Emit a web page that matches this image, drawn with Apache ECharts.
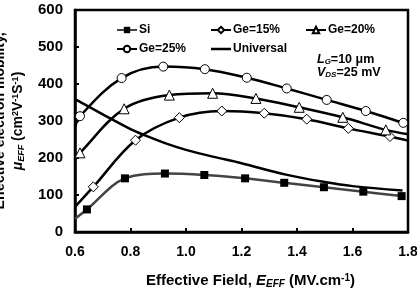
<!DOCTYPE html>
<html><head><meta charset="utf-8">
<script src="https://cdn.jsdelivr.net/npm/echarts@6/dist/echarts.min.js"></script>
<style>html,body{margin:0;padding:0;background:#fff}#c{width:417px;height:289px}</style>
</head><body><div id="c"></div>
<script>
// Marker points
const siX   = [0.643, 0.78, 0.924, 1.066, 1.213, 1.354, 1.497, 1.639, 1.777];
const siY   = [61, 145, 158, 154, 145, 133, 121, 109, 97];
const ge15X = [0.666, 0.818, 0.976, 1.129, 1.282, 1.435, 1.585, 1.735];
const ge15Y = [122, 248, 309, 327, 321, 305, 280, 258];
const ge20X = [0.618, 0.777, 0.94, 1.096, 1.252, 1.408, 1.565, 1.72];
const ge20Y = [214, 333, 370, 375, 361, 337, 310, 276];
const ge25X = [0.618, 0.768, 0.918, 1.068, 1.219, 1.363, 1.507, 1.648, 1.783];
const ge25Y = [313, 416, 447, 440, 417, 388, 357, 327, 295];
// Unmarked curve ends (start at 0.6 / end at 1.8)
const siStart = [0.6, 36],   siEnd = null;
const ge15Start = [0.6, 68], ge15End = [1.8, 247];
const ge20Start = [0.6, 197], ge20End = [1.8, 264];
const ge25Start = [0.6, 282], ge25End = [1.8, 291];
// Universal line
const uniX = [0.6, 0.7, 0.8, 0.85, 0.94, 1.0, 1.1, 1.2, 1.36, 1.5, 1.6, 1.78];
const uniY = [359, 318, 278, 262, 236, 222, 203, 186, 155, 135, 124, 112];
const seriesNames = ['Si', 'Ge=15%', 'Ge=20%', 'Ge=25%', 'Universal'];
const xTicks = {min: 0.6, max: 1.8, interval: 0.2};
const yTicks = {min: 0, max: 600, interval: 100};

function build(xs, ys, start, end) {
  const d = [];
  if (start) d.push({value: start, symbol: 'none'});
  xs.forEach((x, i) => d.push([x, ys[i]]));
  if (end) d.push({value: end, symbol: 'none'});
  return d;
}
const F = 'Liberation Sans, Arial, sans-serif';
const chart = echarts.init(document.getElementById('c'));
const openStyle = {color: '#fff', borderColor: '#000', borderWidth: 1};
function lineSeries(name, data, symbol, size, itemStyle, lineColor) {
  return {name, type: 'line', data, smooth: 0.35, symbol, symbolSize: size,
    showAllSymbol: true, itemStyle, lineStyle: {color: lineColor, width: 2.5},
    emphasis: {disabled: true}, z: 3};
}
const lineIcon = 'path://M0,0L20,0L20,0.001Z M0,2.75L20,2.75L20,5.25L0,5.25Z M0,8L20,8L20,8.001Z';
const legendCommon = {orient: 'vertical', itemWidth: 20, itemHeight: 8, itemGap: 7,
  textStyle: {fontFamily: F, fontWeight: 'bold', fontSize: 12, color: '#000', padding: [0,0,0,-3]}};
chart.setOption({
  animation: false,
  grid: {left: 75, right: 9, top: 10, bottom: 57, show: true, borderColor: '#000', borderWidth: 2.5,
    outerBoundsMode: 'none', containLabel: false},
  legend: [
    Object.assign({data: [seriesNames[0], seriesNames[3]], left: 111, top: 19}, legendCommon),
    Object.assign({data: [seriesNames[1], {name: seriesNames[4], icon: lineIcon, itemStyle: {color: '#000', borderWidth: 0}}], left: 205, top: 19}, legendCommon),
    Object.assign({data: [seriesNames[2]], left: 300, top: 19}, legendCommon)
  ],
  xAxis: {type: 'value', min: xTicks.min, max: xTicks.max, interval: xTicks.interval,
    axisLine: {lineStyle: {color: '#000', width: 2.5}},
    axisTick: {inside: true, length: 4, lineStyle: {color: '#000', width: 2}},
    splitLine: {show: false},
    axisLabel: {formatter: v => v.toFixed(1), fontFamily: F, fontWeight: 'bold', fontSize: 14, color: '#000', margin: 13},
    name: '{a|Effective Field, }{i|E}{s|EFF}{a| (MV.cm}{p|-1}{a|)}',
    nameLocation: 'middle', nameGap: 41,
    nameTextStyle: {padding: [0, 0, 0, 18], rich: {
      a: {fontFamily: F, fontWeight: 'bold', fontSize: 15, color: '#000'},
      i: {fontFamily: F, fontWeight: 'bold', fontStyle: 'italic', fontSize: 15, color: '#000'},
      s: {fontFamily: F, fontWeight: 'bold', fontStyle: 'italic', fontSize: 10, color: '#000', padding: [6,0,0,0]},
      p: {fontFamily: F, fontWeight: 'bold', fontSize: 10, color: '#000', padding: [0,0,6,0]}
    }}},
  yAxis: {type: 'value', min: yTicks.min, max: yTicks.max, interval: yTicks.interval,
    axisLine: {show: true, lineStyle: {color: '#000', width: 2.5}},
    axisTick: {show: true, inside: true, length: 4, lineStyle: {color: '#000', width: 2}},
    splitLine: {show: false},
    axisLabel: {fontFamily: F, fontWeight: 'bold', fontSize: 15, color: '#000', margin: 12},
    name: '{a|Effective electron mobility,}\n{m|μ}{s|EFF}{a| (cm}{p|2}{a|V}{p|-1}{a|S}{p|-1}{a|)}',
    nameLocation: 'middle', nameGap: 46, nameRotate: 90,
    nameTextStyle: {lineHeight: 18, rich: {
      a: {fontFamily: F, fontWeight: 'bold', fontSize: 14, color: '#000', lineHeight: 18},
      m: {fontFamily: F, fontWeight: 'bold', fontStyle: 'italic', fontSize: 14, color: '#000', lineHeight: 18},
      s: {fontFamily: F, fontWeight: 'bold', fontStyle: 'italic', fontSize: 9, color: '#000', padding: [6,0,0,0], lineHeight: 18},
      p: {fontFamily: F, fontWeight: 'bold', fontSize: 9, color: '#000', padding: [0,0,6,0], lineHeight: 18}
    }}},
  graphic: [
    {type: 'text', left: 317, top: 53, style: {
      text: '{i|L}{s|G}{a|=10 μm}\n{i|V}{s|DS}{a|=25 mV}',
      rich: {
        a: {fontFamily: F, fontWeight: 'bold', fontSize: 12.5, fill: '#000', lineHeight: 13},
        i: {fontFamily: F, fontWeight: 'bold', fontStyle: 'italic', fontSize: 12.5, fill: '#000', lineHeight: 13},
        s: {fontFamily: F, fontWeight: 'bold', fontStyle: 'italic', fontSize: 8, fill: '#000', padding: [5,0,0,0], lineHeight: 13}
      }}}
  ],
  series: [
    lineSeries(seriesNames[0], build(siX, siY, siStart, siEnd), 'rect', 8, {color: '#000'}, '#444'),
    lineSeries(seriesNames[1], build(ge15X, ge15Y, ge15Start, ge15End), 'diamond', 10, openStyle, '#000'),
    lineSeries(seriesNames[2], build(ge20X, ge20Y, ge20Start, ge20End), 'triangle', 10, openStyle, '#000'),
    lineSeries(seriesNames[3], build(ge25X, ge25Y, ge25Start, ge25End), 'circle', 9, openStyle, '#000'),
    {name: seriesNames[4], type: 'line', smooth: 0.35, symbol: 'none', showSymbol: false,
      data: uniX.map((x, i) => [x, uniY[i]]), lineStyle: {color: '#000', width: 2.5},
      itemStyle: {color: '#000'}, emphasis: {disabled: true}, z: 2}
  ]
});
</script></body></html>
